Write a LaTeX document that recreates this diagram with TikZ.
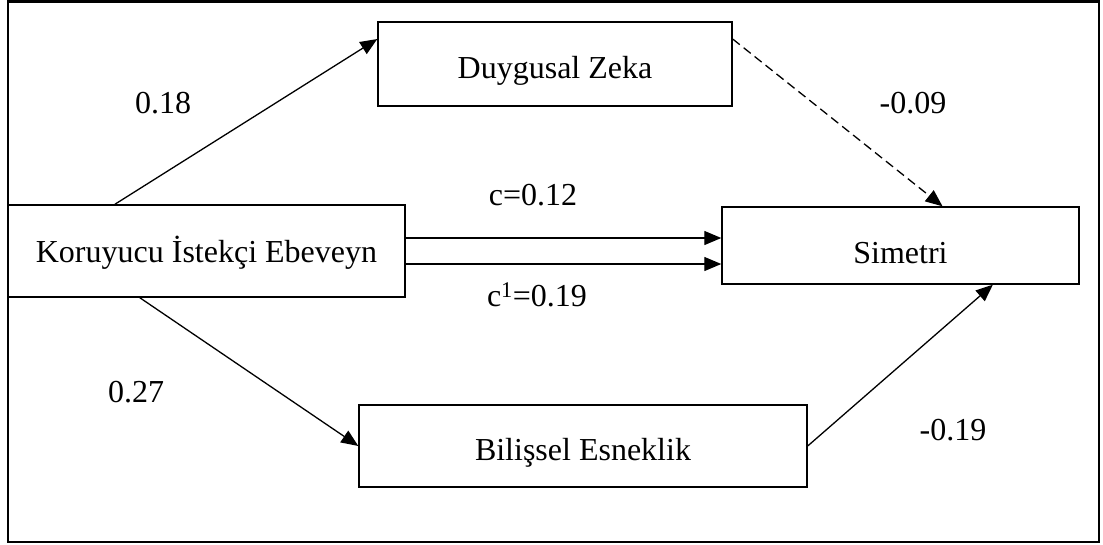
\documentclass[tikz,border=0pt]{standalone}
\usepackage{fontspec}
\setmainfont{Liberation Serif}
\usetikzlibrary{shapes,arrows.meta}

\begin{document}
\begin{tikzpicture}[x=1pt, y=-1pt,
    box/.style={draw, line width=1.4pt, rectangle, inner sep=0pt, text depth=0pt, font=\fontsize{32}{38}\selectfont},
    lbl/.style={inner sep=0pt, font=\fontsize{32}{38}\selectfont},
    arr/.style={line width=1.3pt, -{Triangle[length=17pt,width=14pt]}}]
    \useasboundingbox (0,0) rectangle (1103,544);
    \draw [line width=2.6pt] (8,1.5) rectangle (1099,542);
    \node[box, minimum width=397pt, minimum height=92pt, text height=22pt] (kie) at (206.5,251) {Koruyucu İstekçi Ebeveyn};
    \node[box, minimum width=354pt, minimum height=84pt, text height=28pt] (dz) at (555,64) {Duygusal Zeka};
    \node[box, minimum width=357pt, minimum height=77pt, text height=35pt] (sim) at (900.5,245.5) {Simetri};
    \node[box, minimum width=448pt, minimum height=82pt, text height=28pt] (be) at (583,446) {Bilişsel Esneklik};
    % paths, a and b through the mediators, c and c' direct
    \draw [arr] (kie.153.3) -- (dz.172.6);
    \draw [arr, dash pattern=on 9pt off 5pt] (dz.8) -- (sim.43.5);
    \draw [arr] (kie.215.9) -- (be.west);
    \draw [arr] (be.east) -- (sim.-23.75);
    \draw [arr] ([yshift=13pt]kie.east) -- ([yshift=13pt]kie.east -| sim.west);
    \draw [arr] ([yshift=-13pt]kie.east) -- ([yshift=-13pt]kie.east -| sim.west);
    \node[lbl] (l18) at (163,103) {0.18};
    \node[lbl] (l09) at (913,103) {-0.09};
    \node[lbl] (lc) at (533,195) {c=0.12};
    \node[lbl] (lc1) at (537,295) {c\textsuperscript{1}=0.19};
    \node[lbl] (l27) at (136,392) {0.27};
    \node[lbl] (l19) at (953,430) {-0.19};
\end{tikzpicture}
\end{document}
